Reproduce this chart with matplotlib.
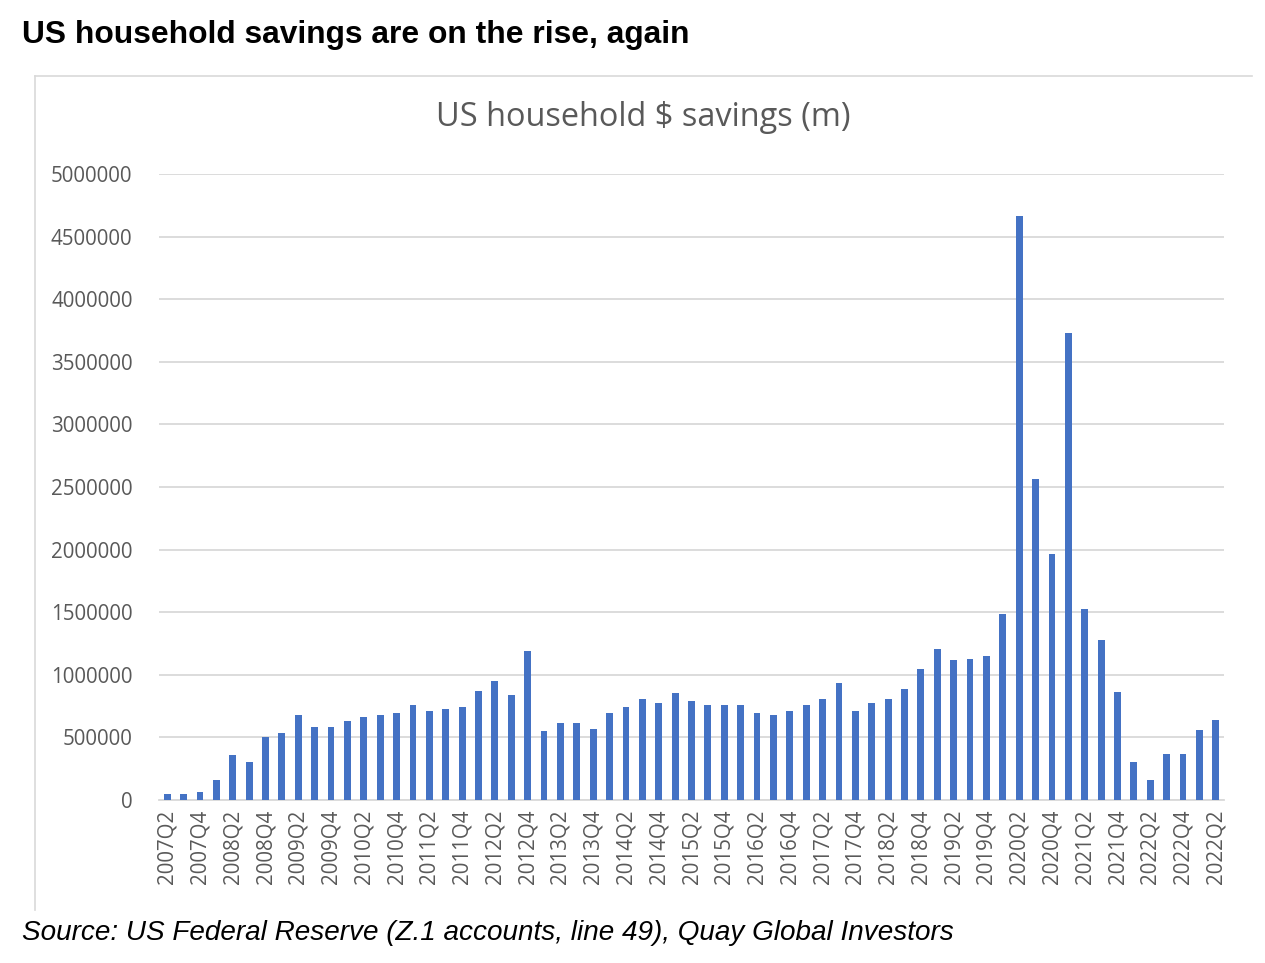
import matplotlib.pyplot as plt
import numpy as np

# quarterly savings, $m (2007Q2 .. 2023Q2)
savings = [50000, 50000, 63000, 158000, 363000, 300000, 505000, 537000, 679000, 584000,
           584000, 632000, 663000, 679000, 695000, 758000, 711000, 726000, 742000, 869000,
           947000, 837000, 1190000, 553000, 616000, 616000, 568000, 695000, 742000, 805000,
           774000, 853000, 790000, 758000, 758000, 758000, 695000, 679000, 711000, 758000,
           805000, 932000, 711000, 774000, 805000, 890000, 1050000, 1210000, 1115000, 1129000,
           1148000, 1485000, 4664000, 2567000, 1962000, 3733000, 1529000, 1276000, 862000, 301000,
           158000, 367000, 367000, 557000, 638000]

# labels shown on every other bar (last one as printed in the source)
tick_labels = ["2007Q2", "2007Q4", "2008Q2", "2008Q4", "2009Q2", "2009Q4", "2010Q2", "2010Q4",
               "2011Q2", "2011Q4", "2012Q2", "2012Q4", "2013Q2", "2013Q4", "2014Q2", "2014Q4",
               "2015Q2", "2015Q4", "2016Q2", "2016Q4", "2017Q2", "2017Q4", "2018Q2", "2018Q4",
               "2019Q2", "2019Q4", "2020Q2", "2020Q4", "2021Q2", "2021Q4", "2022Q2", "2022Q4",
               "2022Q2"]

y_ticks = [0, 500000, 1000000, 1500000, 2000000, 2500000, 3000000, 3500000, 4000000, 4500000, 5000000]

W, H = 1265, 963
fig = plt.figure(figsize=(W / 100, H / 100), dpi=100)
fig.patch.set_facecolor("white")

# headline and source
fig.text(22 / W, 1 - 35 / H, "US household savings are on the rise, again", family="Liberation Sans",
         weight="bold", fontsize=22.9, va="center", ha="left", color="black")
fig.text(22 / W, 1 - 933 / H, "Source: US Federal Reserve (Z.1 accounts, line 49), Quay Global Investors",
         family="Liberation Sans", style="italic", fontsize=20.1, va="center", ha="left", color="black")

# chart box border (top + left visible)
fig.add_artist(plt.Line2D([35 / W, 1252 / W], [1 - 76 / H, 1 - 76 / H], color="#d9d9d9", lw=1.2))
fig.add_artist(plt.Line2D([35 / W, 35 / W], [1 - 76 / H, 1 - 910 / H], color="#d9d9d9", lw=1.2))

fig.text(643 / W, 1 - 118 / H, "US household $ savings (m)", family="Open Sans", fontsize=23.4,
         color="#595959", ha="center", va="center")

ax = fig.add_axes([159 / W, 1 - 800 / H, (1224 - 159) / W, (800 - 174) / H])
x = np.arange(len(savings))
ax.bar(x, savings, width=0.42, color="#4472C4", zorder=3)

ax.set_xlim(-0.5, len(savings) - 0.5)
ax.set_ylim(0, 5000000)
ax.set_yticks(y_ticks)
ax.set_yticklabels([str(v) for v in y_ticks], family="Open Sans", fontsize=14.8, color="#595959")
ax.set_xticks(x[::2])
ax.set_xticklabels(tick_labels, rotation=90, family="Open Sans", fontsize=14.8, color="#595959")
ax.tick_params(axis="both", length=0)
ax.tick_params(axis="x", pad=7)
ax.tick_params(axis="y", pad=19)
ax.grid(axis="y", color="#d9d9d9", lw=1.3, zorder=0)
for s in ["top", "right", "left"]:
    ax.spines[s].set_visible(False)
ax.spines["bottom"].set_color("#d9d9d9")
ax.spines["bottom"].set_linewidth(1.3)

fig.savefig("out.png", dpi=100)
